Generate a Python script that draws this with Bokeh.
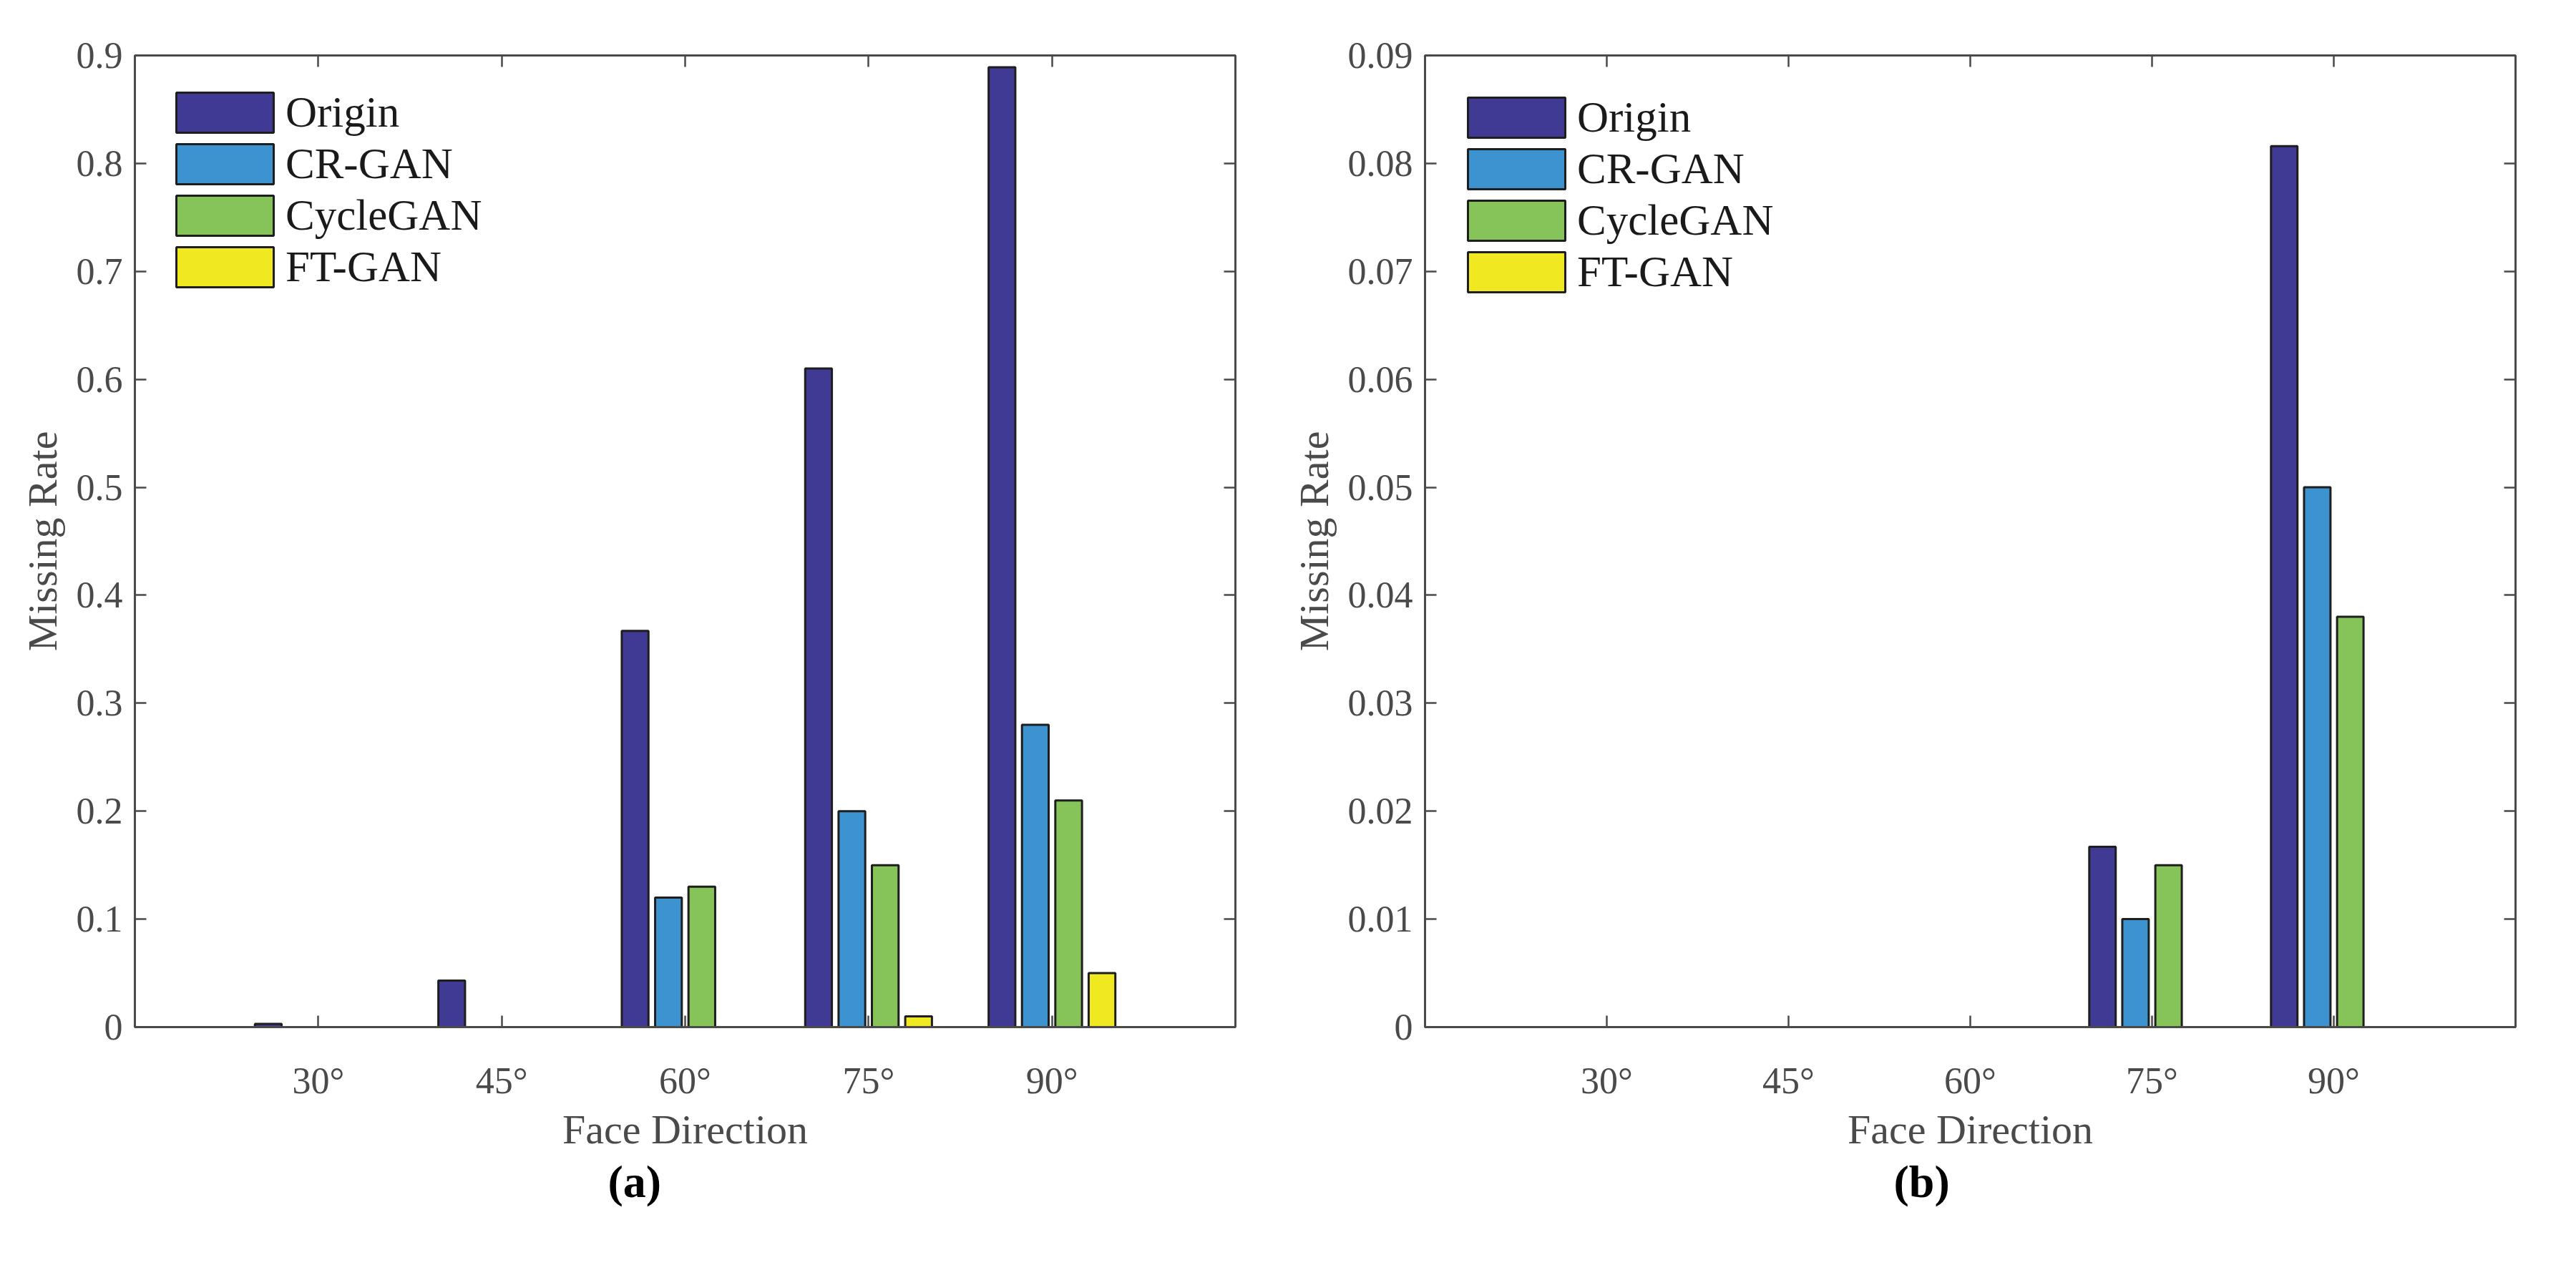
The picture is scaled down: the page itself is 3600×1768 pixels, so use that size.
from bokeh.plotting import figure
from bokeh.layouts import row
from bokeh.models import Range1d, FixedTicker, LinearAxis, Legend, LegendItem, Title
from bokeh.embed import file_html
from bokeh.resources import INLINE

# ---------------- data ----------------
faces = ["30°", "45°", "60°", "75°", "90°"]
series = ["Origin", "CR-GAN", "CycleGAN", "FT-GAN"]
colors = ["#403A94", "#3D92D0", "#86C45A", "#F0E820"]

# panel (a)
a_origin = [0.003, 0.043, 0.367, 0.61, 0.889]
a_crgan = [0.0, 0.0, 0.12, 0.20, 0.28]
a_cyclegan = [0.0, 0.0, 0.13, 0.15, 0.21]
a_ftgan = [0.0, 0.0, 0.0, 0.01, 0.05]
a_yticks = [0, 0.1, 0.2, 0.3, 0.4, 0.5, 0.6, 0.7, 0.8, 0.9]
a_ylabels = ["0", "0.1", "0.2", "0.3", "0.4", "0.5", "0.6", "0.7", "0.8", "0.9"]

# panel (b)
b_origin = [0.0, 0.0, 0.0, 0.0167, 0.0816]
b_crgan = [0.0, 0.0, 0.0, 0.010, 0.050]
b_cyclegan = [0.0, 0.0, 0.0, 0.015, 0.038]
b_ftgan = [0.0, 0.0, 0.0, 0.0, 0.0]
b_yticks = [0, 0.01, 0.02, 0.03, 0.04, 0.05, 0.06, 0.07, 0.08, 0.09]
b_ylabels = ["0", "0.01", "0.02", "0.03", "0.04", "0.05", "0.06", "0.07", "0.08", "0.09"]

x_label = "Face Direction"
y_label = "Missing Rate"

# ---------------- style ----------------
FONT = "Liberation Serif"
AXC = "#4a4a4a"
EDGE = "#1e1e1e"
GROUP_STEP = 0.1818
BAR_W = 0.1455


def style_axis(ax, label_size="52px"):
    ax.axis_line_color = AXC
    ax.axis_line_width = 3
    ax.major_tick_line_color = AXC
    ax.major_tick_line_width = 2.5
    ax.major_tick_in = 16
    ax.major_tick_out = 0
    ax.minor_tick_in = 0
    ax.minor_tick_out = 0
    ax.minor_tick_line_color = None
    ax.major_label_text_font = FONT
    ax.major_label_text_font_size = label_size
    ax.major_label_text_color = AXC
    ax.axis_label_text_font = FONT
    ax.axis_label_text_font_size = "58px"
    ax.axis_label_text_font_style = "normal"
    ax.axis_label_text_color = AXC


def panel(vals, yticks, ylabels, ymax, caption, cap_offset,
          bl, br, bt, bb, leg_loc):
    p = figure(width=1800, height=1768,
               x_range=Range1d(0, 6), y_range=Range1d(0, ymax),
               output_backend="svg", toolbar_location=None,
               min_border_left=bl, min_border_right=br,
               min_border_top=bt, min_border_bottom=bb,
               background_fill_color="white", border_fill_color="white")
    p.xgrid.visible = False
    p.ygrid.visible = False
    p.outline_line_color = AXC
    p.outline_line_width = 3

    xticks = [i + 1 for i in range(len(faces))]

    items = []
    for i, (name, v, c) in enumerate(zip(series, vals, colors)):
        xs = [k + 1 + (i - 1.5) * GROUP_STEP for k in range(len(faces))]
        r = p.vbar(x=xs, top=v, bottom=0, width=BAR_W,
                   fill_color=c, line_color=EDGE, line_width=3)
        items.append(LegendItem(label=name, renderers=[r]))

    # bottom / left axes
    xa = p.xaxis[0]
    xa.ticker = FixedTicker(ticks=xticks)
    xa.major_label_overrides = dict(zip(xticks, faces))
    style_axis(xa)
    xa.major_label_standoff = 46
    xa.axis_label = x_label
    xa.axis_label_standoff = 4

    ya = p.yaxis[0]
    ya.ticker = FixedTicker(ticks=yticks)
    ya.major_label_overrides = dict(zip(yticks, ylabels))
    style_axis(ya)
    ya.major_label_standoff = 17
    ya.axis_label = y_label
    ya.axis_label_standoff = 12

    # mirrored ticks on top / right (no labels)
    top = LinearAxis(ticker=FixedTicker(ticks=xticks))
    style_axis(top, "1px")
    top.major_label_text_color = None
    top.axis_line_color = None
    top.major_label_standoff = 0
    p.add_layout(top, "above")
    right = LinearAxis(ticker=FixedTicker(ticks=yticks))
    style_axis(right, "1px")
    right.major_label_text_color = None
    right.axis_line_color = None
    right.major_label_standoff = 0
    p.add_layout(right, "right")

    leg = Legend(items=items, location=leg_loc, margin=0, padding=0,
                 glyph_width=170, glyph_height=70, label_height=70,
                 spacing=2, label_standoff=-6,
                 label_text_font=FONT, label_text_font_size="61px",
                 label_text_color="#1a1a1a",
                 border_line_color=None, background_fill_alpha=0.0)
    p.add_layout(leg, "center")

    cap = Title(text=caption, align="left", offset=cap_offset,
                text_font=FONT, text_font_size="64px",
                text_font_style="bold", text_color="black", standoff=0)
    p.add_layout(cap, "below")
    return p


pa = panel([a_origin, a_crgan, a_cyclegan, a_ftgan], a_yticks, a_ylabels, 0.9,
           "(a)", 661, 188, 74, 69, 333, (41, 1027))
pb = panel([b_origin, b_crgan, b_cyclegan, b_ftgan], b_yticks, b_ylabels, 0.09,
           "(b)", 655, 184, 85, 77, 332, (43, 1020))

layout = row(pa, pb)
open("out.html", "w").write(file_html(layout, INLINE))
